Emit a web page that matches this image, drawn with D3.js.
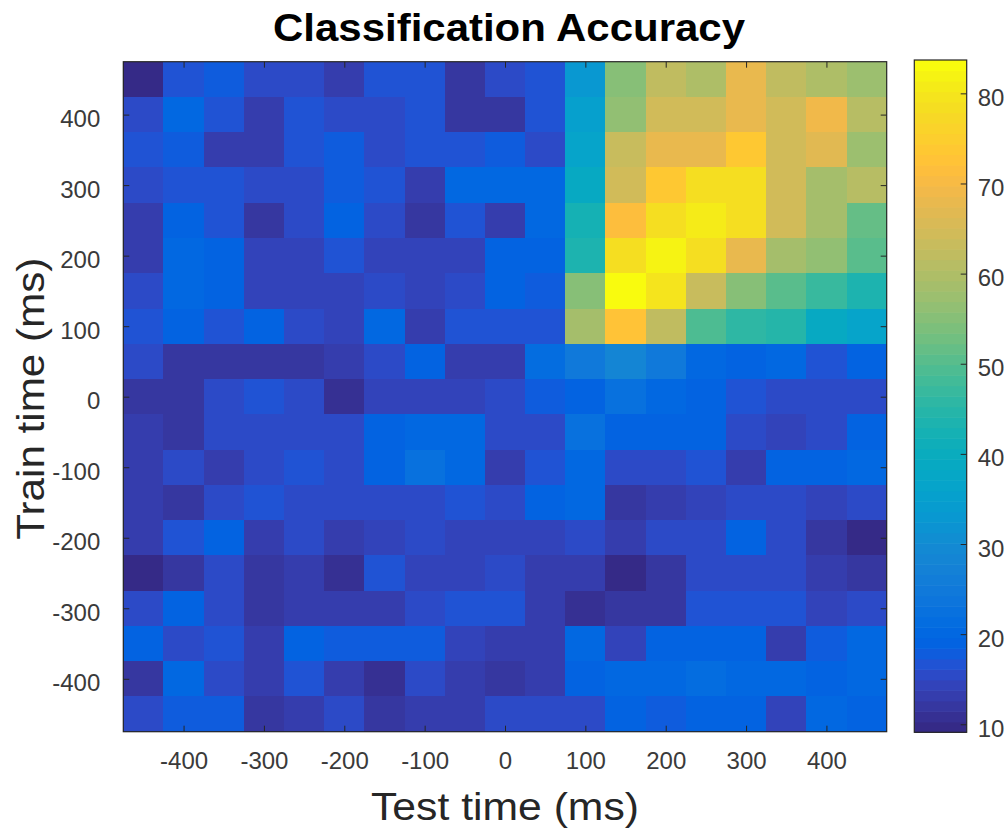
<!DOCTYPE html>
<html>
<head>
<meta charset="utf-8">
<script src="https://cdn.jsdelivr.net/npm/d3@7/dist/d3.min.js"></script>
<style>
  body { margin: 0; background: #fff; }
  svg { display: block; }
  text { font-family: "Liberation Sans", Arial, Helvetica, sans-serif; }
</style>
</head>
<body>
<svg id="chart"></svg>
<script>

// test time (columns) and train time (rows, top to bottom), ms
var testTimes = [-450, -400, -350, -300, -250, -200, -150, -100, -50, 0, 50, 100, 150, 200, 250, 300, 350, 400, 450];
var trainTimes = [450, 400, 350, 300, 250, 200, 150, 100, 50, 0, -50, -100, -150, -200, -250, -300, -350, -400, -450];

// accuracy (%) - one row per train time
var accuracy = [
  [10, 17, 18, 15.5, 15.5, 13, 17, 17, 12.5, 15.5, 17, 33, 55, 62, 60, 68, 62, 60, 58],
  [15.5, 20, 17, 13.5, 17, 15.5, 15.5, 17, 12.5, 12.5, 17, 35, 56, 64, 65, 68, 65, 69, 61],
  [17, 18, 13.5, 13.5, 17, 18, 15, 17, 17, 18, 15, 37, 63, 68, 68, 74, 65, 67, 58],
  [15, 17, 17, 15.5, 15.5, 18, 17, 13, 20, 20, 20, 39, 64, 74, 78, 78, 65, 59, 61],
  [13.5, 18.5, 17, 12.5, 15.5, 18.5, 15.5, 12.5, 17, 13.5, 20, 42, 71, 78, 81, 78, 65, 59, 52],
  [13.5, 20, 18.5, 14, 14, 17, 14, 14, 14, 18.5, 18.5, 43, 78, 82, 78, 68, 59, 56, 50],
  [15, 20, 19.5, 14, 14, 14, 15, 14, 15, 19.5, 18, 55, 84, 80, 63, 55, 50, 47, 43],
  [17, 18.5, 17, 18.5, 15.5, 14, 20, 13.5, 17, 17, 17, 59, 73, 62, 49, 46, 45, 39, 36],
  [15.5, 12, 12, 12, 12, 13.5, 15.5, 18.5, 13, 13.5, 21.5, 25, 28, 25, 20, 18.5, 20, 17, 18.5],
  [12.5, 12.5, 15.5, 17, 15.5, 11, 14, 14, 14, 16, 18, 19.5, 22.5, 20.5, 18.5, 17, 15.5, 15.5, 15.5],
  [13.5, 12, 15, 15, 15.5, 15, 18.5, 20, 20, 15, 15, 22.5, 18.5, 18.5, 18.5, 15.5, 14, 15.5, 18.5],
  [13.5, 15.5, 13.5, 15.5, 17, 15.5, 18.5, 23, 20, 13.5, 17, 20, 15, 15.5, 17, 13, 19, 18.5, 20],
  [13.5, 12, 15, 17, 15, 15, 15, 15, 17, 15, 18.5, 20, 11.5, 13, 14, 15.5, 15.5, 14, 15.5],
  [13.5, 17, 18.5, 13.5, 15, 13.5, 14, 15, 14, 14, 14, 15.5, 13, 15, 15.5, 18.5, 15.5, 11.5, 9.5],
  [10, 12.5, 15, 12.5, 13.5, 11, 17, 14, 14, 15.5, 13.5, 13.5, 9.8, 12, 15.5, 15, 15.5, 13, 12],
  [15.5, 18.5, 15.5, 12.5, 13.5, 13.5, 13.5, 15.5, 17, 17, 13.5, 10.5, 12, 12, 17, 17, 17, 14, 15.5],
  [18.5, 15.5, 17, 13.5, 18.5, 17.5, 17.5, 17.5, 14, 13.5, 13.5, 20, 14, 18.5, 18.5, 18.5, 13.5, 17.5, 20],
  [11.5, 20, 15, 13.5, 17, 13.5, 10.5, 15, 13.5, 11.5, 13.5, 18.5, 20, 20, 21, 20, 20, 19, 20],
  [15.5, 18, 17.5, 12.5, 13.5, 15.5, 11.5, 13.5, 13.5, 15.5, 15, 15.5, 18.5, 17.5, 18.5, 19.5, 14, 20, 18.5]
];

var xTicks = [-400, -300, -200, -100, 0, 100, 200, 300, 400];
var yTicks = [-400, -300, -200, -100, 0, 100, 200, 300, 400];
var cbTicks = [10, 20, 30, 40, 50, 60, 70, 80];
var colorRange = [9.11, 83.7];

// parula, 64 steps
var parula = [
  [0.2081,0.1663,0.5292],[0.2116,0.1898,0.5777],[0.2123,0.2138,0.6270],[0.2081,0.2386,0.6771],
  [0.1959,0.2645,0.7279],[0.1707,0.2919,0.7792],[0.1253,0.3242,0.8303],[0.0591,0.3598,0.8683],
  [0.0117,0.3875,0.8820],[0.0060,0.4086,0.8828],[0.0165,0.4266,0.8786],[0.0329,0.4430,0.8720],
  [0.0498,0.4586,0.8641],[0.0629,0.4737,0.8554],[0.0723,0.4887,0.8467],[0.0779,0.5040,0.8384],
  [0.0793,0.5200,0.8312],[0.0749,0.5375,0.8263],[0.0641,0.5570,0.8240],[0.0488,0.5772,0.8228],
  [0.0343,0.5966,0.8199],[0.0265,0.6137,0.8135],[0.0239,0.6287,0.8038],[0.0231,0.6418,0.7913],
  [0.0228,0.6535,0.7768],[0.0267,0.6642,0.7607],[0.0384,0.6743,0.7436],[0.0590,0.6838,0.7254],
  [0.0843,0.6928,0.7062],[0.1133,0.7015,0.6859],[0.1453,0.7098,0.6646],[0.1801,0.7177,0.6424],
  [0.2178,0.7250,0.6193],[0.2586,0.7317,0.5954],[0.3022,0.7376,0.5712],[0.3482,0.7424,0.5473],
  [0.3953,0.7459,0.5244],[0.4420,0.7481,0.5033],[0.4871,0.7491,0.4840],[0.5300,0.7491,0.4661],
  [0.5709,0.7485,0.4494],[0.6099,0.7473,0.4337],[0.6473,0.7456,0.4188],[0.6834,0.7435,0.4044],
  [0.7184,0.7411,0.3905],[0.7525,0.7384,0.3768],[0.7858,0.7356,0.3633],[0.8185,0.7327,0.3498],
  [0.8507,0.7299,0.3360],[0.8824,0.7274,0.3217],[0.9139,0.7258,0.3063],[0.9450,0.7261,0.2886],
  [0.9739,0.7314,0.2666],[0.9938,0.7455,0.2403],[0.9990,0.7653,0.2164],[0.9955,0.7861,0.1967],
  [0.9880,0.8066,0.1794],[0.9789,0.8271,0.1633],[0.9697,0.8481,0.1475],[0.9626,0.8705,0.1309],
  [0.9589,0.8949,0.1132],[0.9598,0.9218,0.0948],[0.9661,0.9514,0.0755],[0.9763,0.9831,0.0538]
].map(function(c) { return d3.rgb(c[0] * 255, c[1] * 255, c[2] * 255).formatHex(); });

var width = 1006, height = 833;
var axisColor = "#262626";

var svg = d3.select("#chart")
              .attr("width", width)
              .attr("height", height);

var plot = { left: 123.3, right: 886.7, top: 61.7, bottom: 731.7 };
var cb = { left: 914.3, right: 966.7, top: 60, bottom: 732.3 };

var x = d3.scaleLinear().domain([-475, 475]).range([plot.left, plot.right]);
var y = d3.scaleLinear().domain([475, -475]).range([plot.top, plot.bottom]);
var color = d3.scaleQuantize().domain(colorRange).range(parula);

// plain hyphen minus, as matlab prints it
var fmt = function(d) { return String(d); };

var cells = [];
accuracy.forEach(function(row, i) {
  row.forEach(function(v, j) {
    cells.push({ test: testTimes[j], train: trainTimes[i], value: v });
  });
});

svg.append("g").selectAll("rect")
    .data(cells)
    .enter().append("rect")
    .attr("x", function(d) { return x(d.test - 25); })
    .attr("y", function(d) { return y(d.train + 25); })
    .attr("width", function(d) { return x(d.test + 25) - x(d.test - 25) + 0.5; })
    .attr("height", function(d) { return y(d.train - 25) - y(d.train + 25) + 0.5; })
    .attr("fill", function(d) { return color(d.value); })
    .attr("shape-rendering", "crispEdges");

function styleAxis(g) {
  g.select(".domain").remove();
  g.selectAll(".tick line").attr("stroke", axisColor);
  g.selectAll(".tick text")
      .attr("fill", "#3a3a3a")
      .style("font-size", "24px");
}

// ticks point inward like matlab
svg.append("g")
    .attr("transform", "translate(0," + plot.bottom + ")")
    .call(d3.axisBottom(x).tickValues(xTicks).tickFormat(fmt).tickSizeInner(-6).tickSizeOuter(0).tickPadding(20))
    .call(styleAxis);

svg.append("g")
    .attr("transform", "translate(0," + plot.top + ")")
    .call(d3.axisTop(x).tickValues(xTicks).tickSizeInner(-6).tickSizeOuter(0).tickFormat(""))
    .call(styleAxis);

svg.append("g")
    .attr("transform", "translate(" + plot.left + ",0)")
    .call(d3.axisLeft(y).tickValues(yTicks).tickFormat(fmt).tickSizeInner(-6).tickSizeOuter(0).tickPadding(23))
    .call(styleAxis)
    .selectAll(".tick text").attr("dy", "0.5em");

svg.append("g")
    .attr("transform", "translate(" + plot.right + ",0)")
    .call(d3.axisRight(y).tickValues(yTicks).tickSizeInner(-6).tickSizeOuter(0).tickFormat(""))
    .call(styleAxis);

svg.append("rect")
    .attr("x", plot.left).attr("y", plot.top)
    .attr("width", plot.right - plot.left).attr("height", plot.bottom - plot.top)
    .attr("fill", "none").attr("stroke", axisColor).attr("stroke-width", 1.2);

// colorbar
var cbY = d3.scaleLinear().domain(colorRange).range([cb.bottom, cb.top]);
var step = (colorRange[1] - colorRange[0]) / parula.length;

svg.append("g").selectAll("rect")
    .data(parula)
    .enter().append("rect")
    .attr("x", cb.left)
    .attr("width", cb.right - cb.left)
    .attr("y", function(d, i) { return cbY(colorRange[0] + (i + 1) * step); })
    .attr("height", function(d, i) { return cbY(colorRange[0] + i * step) - cbY(colorRange[0] + (i + 1) * step) + 0.6; })
    .attr("fill", function(d) { return d; });

svg.append("g")
    .attr("transform", "translate(" + cb.right + ",0)")
    .call(d3.axisRight(cbY).tickValues(cbTicks).tickFormat(fmt).tickSizeInner(-6).tickSizeOuter(0).tickPadding(11))
    .call(styleAxis)
    .selectAll(".tick text").attr("dy", "0.5em");

svg.append("rect")
    .attr("x", cb.left).attr("y", cb.top)
    .attr("width", cb.right - cb.left).attr("height", cb.bottom - cb.top)
    .attr("fill", "none").attr("stroke", axisColor).attr("stroke-width", 1.2);

// titles
svg.append("text")
    .attr("x", 509).attr("y", 41)
    .attr("text-anchor", "middle")
    .attr("textLength", 472).attr("lengthAdjust", "spacingAndGlyphs")
    .style("font-size", "38px").style("font-weight", "bold")
    .attr("fill", "#000")
    .text("Classification Accuracy");

svg.append("text")
    .attr("x", 505).attr("y", 820)
    .attr("text-anchor", "middle")
    .attr("textLength", 268).attr("lengthAdjust", "spacingAndGlyphs")
    .style("font-size", "39px")
    .attr("fill", "#262626")
    .text("Test time (ms)");

svg.append("text")
    .attr("transform", "translate(44," + ((plot.top + plot.bottom) / 2 + 2) + ") rotate(-90)")
    .attr("text-anchor", "middle")
    .attr("textLength", 282).attr("lengthAdjust", "spacingAndGlyphs")
    .style("font-size", "39px")
    .attr("fill", "#262626")
    .text("Train time (ms)");

</script>
</body>
</html>
